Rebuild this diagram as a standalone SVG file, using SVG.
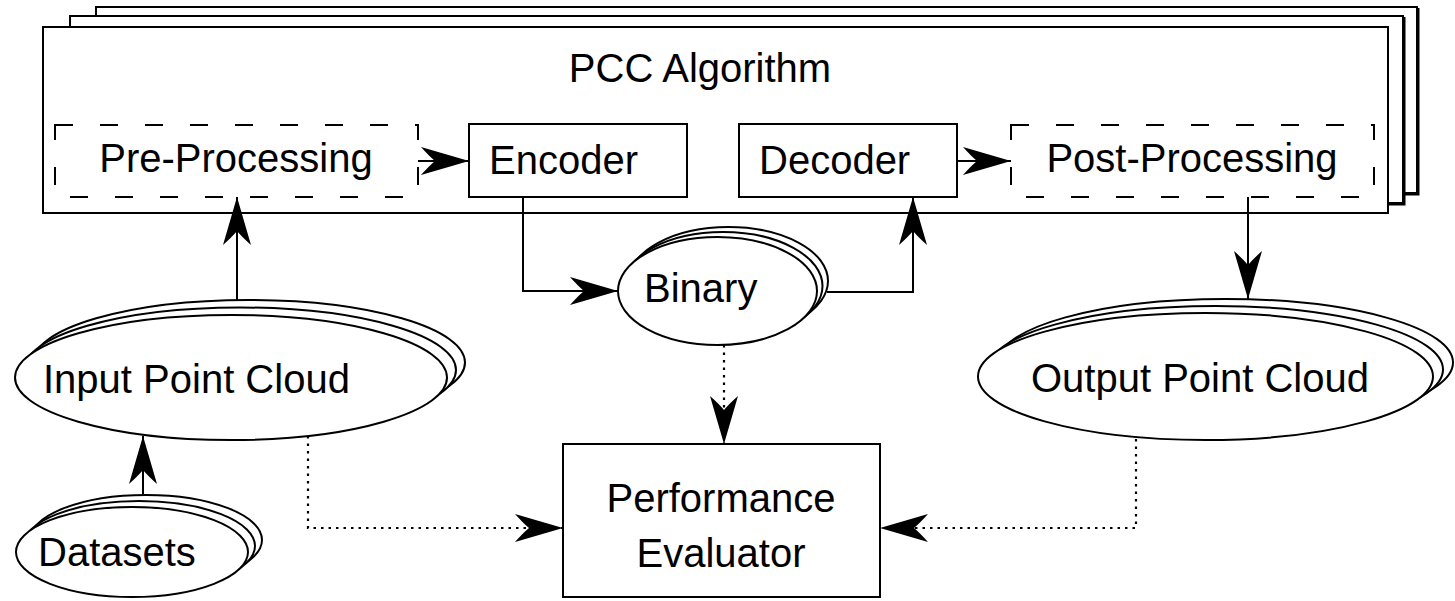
<svg xmlns="http://www.w3.org/2000/svg" width="1455" height="601" viewBox="0 0 1455 601">
<style>
  .box{fill:#fff;stroke:#000;stroke-width:2}
  .dash{fill:#fff;stroke:#000;stroke-width:2;stroke-dasharray:18 27}
  .ell{fill:#fff;stroke:#000;stroke-width:2}
  .lbl{font-family:"Liberation Sans",Arial,sans-serif;font-size:40px;fill:#000}
  .solid{fill:none;stroke:#000;stroke-width:2}
  .dot{fill:none;stroke:#000;stroke-width:2.2;stroke-dasharray:2.5 5}
</style>
<defs>
  <marker id="ah" viewBox="-50 -16 52 32" markerWidth="52" markerHeight="32" refX="0" refY="0" orient="auto" markerUnits="userSpaceOnUse">
    <path d="M0,0 L-48,-14 Q-40,-5 -34,0 Q-40,5 -48,14 Z" fill="#000"/>
  </marker>
</defs>
<rect width="1455" height="601" fill="#fff"/>

<g id="pcc">
  <rect class="box" x="96" y="7" width="1321" height="186"/>
  <polyline points="1418,8 1418,194 97,194" fill="none" stroke="#000" stroke-width="3"/>
  <rect class="box" x="70" y="16" width="1333" height="187"/>
  <polyline points="1404,17 1404,204 71,204" fill="none" stroke="#000" stroke-width="3"/>
  <rect class="box" x="43" y="27" width="1345" height="186"/>
  <text class="lbl" x="700" y="82" text-anchor="middle">PCC Algorithm</text>
</g>

<g id="preprocessing">
  <rect class="dash" x="55" y="125" width="363" height="72"/>
  <text class="lbl" x="236" y="172" text-anchor="middle">Pre-Processing</text>
</g>
<g id="encoder">
  <rect class="box" x="469" y="124" width="218" height="73"/>
  <text class="lbl" x="489" y="174">Encoder</text>
</g>
<g id="decoder">
  <rect class="box" x="739" y="124" width="218" height="73"/>
  <text class="lbl" x="759" y="174">Decoder</text>
</g>
<g id="postprocessing">
  <rect class="dash" x="1011" y="125" width="363" height="72"/>
  <text class="lbl" x="1192" y="172" text-anchor="middle">Post-Processing</text>
</g>

<g id="binary">
  <ellipse class="ell" cx="728.5" cy="281" rx="99.5" ry="54"/>
  <ellipse class="ell" cx="723" cy="286" rx="99.5" ry="54"/>
  <ellipse class="ell" cx="717.5" cy="291" rx="99.5" ry="54"/>
  <text class="lbl" x="644" y="302">Binary</text>
</g>

<g id="input">
  <ellipse class="ell" cx="249" cy="362.5" rx="216" ry="62.5"/>
  <ellipse class="ell" cx="240" cy="370" rx="216" ry="62.5"/>
  <ellipse class="ell" cx="231" cy="377.5" rx="216" ry="62.5"/>
  <text class="lbl" x="43" y="393">Input Point Cloud</text>
</g>

<g id="datasets">
  <ellipse class="ell" cx="146" cy="540" rx="116" ry="45"/>
  <ellipse class="ell" cx="139" cy="546" rx="116" ry="45"/>
  <ellipse class="ell" cx="132" cy="552" rx="116" ry="45"/>
  <text class="lbl" x="38" y="566">Datasets</text>
</g>

<g id="output">
  <ellipse class="ell" cx="1225.5" cy="362.5" rx="227.5" ry="63.5"/>
  <ellipse class="ell" cx="1215.5" cy="369.5" rx="227.5" ry="63.5"/>
  <ellipse class="ell" cx="1205.5" cy="376.5" rx="227.5" ry="63.5"/>
  <text class="lbl" x="1031" y="392">Output Point Cloud</text>
</g>

<g id="evaluator">
  <rect class="box" x="563" y="444" width="317" height="153"/>
  <text class="lbl" x="721" y="512" text-anchor="middle">Performance</text>
  <text class="lbl" x="721" y="567" text-anchor="middle">Evaluator</text>
</g>

<g id="connectors">
  <path class="solid" d="M418,161 H469" marker-end="url(#ah)"/>
  <path class="solid" d="M957,161 H1011" marker-end="url(#ah)"/>
  <path class="solid" d="M523,197 V291 H618" marker-end="url(#ah)"/>
  <path class="solid" d="M827,292 H913 V197" marker-end="url(#ah)"/>
  <path class="solid" d="M237,300 V197" marker-end="url(#ah)"/>
  <path class="solid" d="M1248,197 V299" marker-end="url(#ah)"/>
  <path class="solid" d="M143,494 V436" marker-end="url(#ah)"/>
  <path class="dot" d="M724,345 V444" marker-end="url(#ah)"/>
  <path class="dot" d="M308,436 V528 H563" marker-end="url(#ah)"/>
  <path class="dot" d="M1136,439 V528 H880" marker-end="url(#ah)"/>
</g>
</svg>
